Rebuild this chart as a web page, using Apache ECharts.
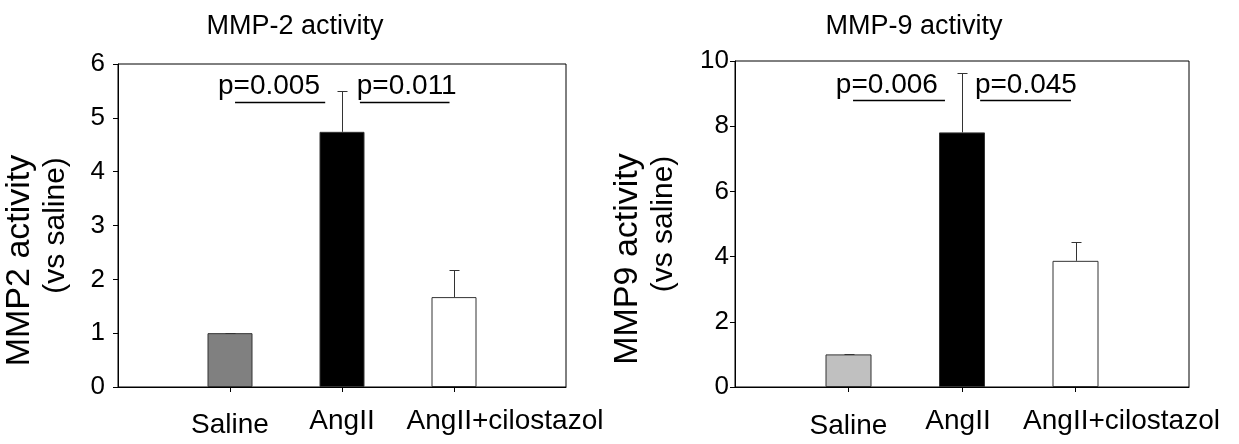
<!DOCTYPE html>
<html>
<head>
<meta charset="utf-8">
<script src="https://cdn.jsdelivr.net/npm/echarts@6/dist/echarts.min.js"></script>
<style>
  html, body { margin: 0; padding: 0; background: #fff; }
  #chart { width: 1239px; height: 444px; }
</style>
</head>
<body>
<div id="chart"></div>
<script>
// ---- data ----
const categories = ['Saline', 'AngII', 'AngII+cilostazol'];
const catPositions = [1, 2, 3];
const mmp2Mean = [1.0, 4.74, 1.67];
const mmp2Err = [0.01, 0.76, 0.50];
const mmp9Mean = [1.0, 7.81, 3.87];
const mmp9Err = [0.01, 1.83, 0.57];
const mmp2Ticks = [0, 1, 2, 3, 4, 5, 6];
const mmp9Ticks = [0, 2, 4, 6, 8, 10];
const titles = ['MMP-2 activity', 'MMP-9 activity'];
const yNames = [['MMP2 activity', '(vs saline)'], ['MMP9 activity', '(vs saline)']];
const mmp2PLabels = ['p=0.005', 'p=0.011'];
const mmp9PLabels = ['p=0.006', 'p=0.045'];
// comparison annotations in data coordinates: [text centre x, text y, line x1, line x2, line y]
const mmp2PAnnot = [[1.348, 5.59, 1.045, 1.85, 5.29], [2.578, 5.59, 2.16, 2.96, 5.30]];
const mmp9PAnnot = [[1.338, 9.24, 1.04, 1.85, 8.79], [2.563, 9.24, 2.16, 2.96, 8.79]];

// ---- styles ----
const FONT = '"Liberation Sans", Arial, Helvetica, sans-serif';
const fills2 = ['#808080', '#000000', '#ffffff'];
const fills9 = ['#c0c0c0', '#000000', '#ffffff'];

const chart = echarts.init(document.getElementById('chart'));

function makeAxes(idx, ticks, labelMargin, nameGap, longShift, angShift, salinePad) {
  const rich = {
    s: { fontSize: 28, fontFamily: FONT, color: '#000', padding: [salinePad, 0, 0, 0] },
    a: { fontSize: 28, fontFamily: FONT, color: '#000', padding: [0, angShift > 0 ? 0 : -2 * angShift, 0, angShift > 0 ? 2 * angShift : 0] },
    c: { fontSize: 28, fontFamily: FONT, color: '#000', padding: [0, 0, 0, 2 * longShift] }
  };
  const keys = ['s', 'a', 'c'];
  const xAxis = {
    type: 'value', gridIndex: idx, min: 0, max: 4, interval: 1,
    axisLine: { show: true, lineStyle: { color: '#000', width: 1 } },
    axisTick: { show: true, length: 5, customValues: catPositions, lineStyle: { color: '#000' } },
    axisLabel: {
      show: true, margin: 20, customValues: catPositions,
      formatter: function (v) {
        const i = catPositions.indexOf(Math.round(v));
        return i < 0 ? '' : '{' + keys[i] + '|' + categories[i] + '}';
      },
      rich: rich
    },
    splitLine: { show: false }
  };
  const yAxis = {
    type: 'value', gridIndex: idx,
    min: ticks[0], max: ticks[ticks.length - 1], interval: ticks[1] - ticks[0],
    axisLine: { show: true, lineStyle: { color: '#000', width: 1 } },
    axisTick: { show: true, length: 5, lineStyle: { color: '#000' } },
    axisLabel: { margin: labelMargin, fontSize: 26, fontFamily: FONT, color: '#000' },
    splitLine: { show: false },
    name: '{a|' + yNames[idx][0] + '}\n{b|' + yNames[idx][1] + '}',
    nameLocation: 'middle', nameGap: nameGap, nameRotate: 90,
    nameTextStyle: {
      color: '#000', fontFamily: FONT,
      rich: {
        a: { fontSize: 34, fontFamily: FONT, color: '#000', lineHeight: 36, padding: [0, 70, 0, 0] },
        b: { fontSize: 30, fontFamily: FONT, color: '#000', lineHeight: 36 }
      }
    }
  };
  return { xAxis, yAxis };
}

const ax0 = makeAxes(0, mmp2Ticks, 13, 44, 51, 0, 4);
const ax1 = makeAxes(1, mmp9Ticks, 6, 53, 46, -4, 5);

function barSeries(idx, means, fills, width) {
  return {
    type: 'bar', xAxisIndex: idx, yAxisIndex: idx, barWidth: width,
    data: catPositions.map((x, i) => ({ value: [x, means[i]], itemStyle: { color: fills[i] } })),
    itemStyle: { borderColor: '#333', borderWidth: 1 },
    silent: true, z: 2
  };
}

function errSeries(idx, means, errs) {
  return {
    type: 'custom', xAxisIndex: idx, yAxisIndex: idx, z: 3, silent: true,
    encode: { x: 0, y: 1 },
    data: catPositions.map((x, i) => [x, means[i], errs[i]]),
    renderItem: function (params, api) {
      const x = api.value(0), m = api.value(1), e = api.value(2);
      const b = api.coord([x, m]);
      const t = api.coord([x, m + e]);
      const cx = Math.round(b[0]) + 0.5;
      const ty = Math.round(t[1]) + 0.5;
      return {
        type: 'group',
        children: [
          { type: 'line', shape: { x1: cx, y1: b[1], x2: cx, y2: ty }, style: { stroke: '#333', lineWidth: 1 } },
          { type: 'line', shape: { x1: cx - 5, y1: ty, x2: cx + 5, y2: ty }, style: { stroke: '#333', lineWidth: 1 } }
        ]
      };
    }
  };
}

function annotSeries(idx, annots, labels) {
  return {
    type: 'custom', xAxisIndex: idx, yAxisIndex: idx, z: 4, silent: true,
    encode: { x: 0, y: 1 },
    data: annots.map((a, i) => a.concat([i])),
    renderItem: function (params, api) {
      const tp = api.coord([api.value(0), api.value(1)]);
      const l1 = api.coord([api.value(2), api.value(4)]);
      const l2 = api.coord([api.value(3), api.value(4)]);
      const ly = Math.round(l1[1]) + 0.5;
      return {
        type: 'group',
        children: [
          { type: 'text', style: { text: labels[api.value(5)], x: tp[0], y: tp[1], textAlign: 'center', textVerticalAlign: 'middle', fontSize: 28, fontFamily: FONT, fill: '#000' } },
          { type: 'line', shape: { x1: l1[0], y1: ly, x2: l2[0], y2: ly }, style: { stroke: '#000', lineWidth: 1.5 } }
        ]
      };
    }
  };
}

chart.setOption({
  animation: false,
  backgroundColor: '#fff',
  title: [
    { text: titles[0], left: 290, top: 8, textAlign: 'center', textStyle: { fontSize: 27, fontWeight: 'normal', fontFamily: FONT, color: '#000' } },
    { text: titles[1], left: 909, top: 8, textAlign: 'center', textStyle: { fontSize: 27, fontWeight: 'normal', fontFamily: FONT, color: '#000' } }
  ],
  grid: [
    { left: 118, top: 64, width: 448, height: 323, show: true, borderColor: '#000', borderWidth: 1, backgroundColor: 'transparent', containLabel: false },
    { left: 735, top: 61, width: 454, height: 326, show: true, borderColor: '#000', borderWidth: 1, backgroundColor: 'transparent', containLabel: false }
  ],
  xAxis: [ax0.xAxis, ax1.xAxis],
  yAxis: [ax0.yAxis, ax1.yAxis],
  series: [
    barSeries(0, mmp2Mean, fills2, 45),
    errSeries(0, mmp2Mean, mmp2Err),
    annotSeries(0, mmp2PAnnot, mmp2PLabels),
    barSeries(1, mmp9Mean, fills9, 46),
    errSeries(1, mmp9Mean, mmp9Err),
    annotSeries(1, mmp9PAnnot, mmp9PLabels)
  ]
});
</script>
</body>
</html>
